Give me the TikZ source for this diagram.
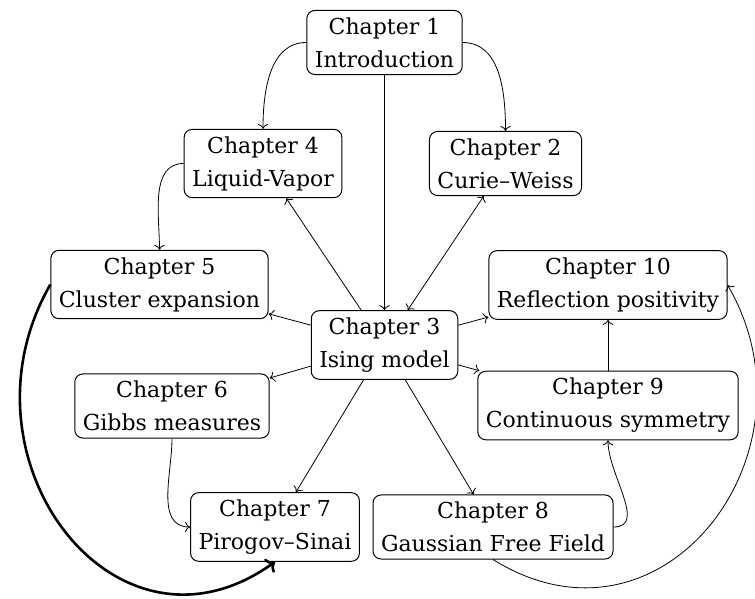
\documentclass[tikz,border=0pt]{standalone}
\usepackage{fontspec}
\setmainfont{DejaVu Serif}
\usetikzlibrary{arrows.meta}
\begin{document}
\begin{tikzpicture}[x=1pt,y=-1pt,
  box/.style={draw, rounded corners=8pt, align=center, inner xsep=8pt, inner ysep=7pt,
    font=\fontsize{22}{33}\selectfont, line width=1pt},
  conn/.style={-{To[scale=1.5]}, line width=0.8pt},
  both/.style={{To[scale=1.5]}-{To[scale=1.5]}, line width=0.8pt},
  boldconn/.style={-{To[scale=1.1]}, line width=2.6pt}]
\useasboundingbox (0,0) rectangle (755,599);
\node[box] (ch1) at (384.5,42.5) {Chapter 1\\Introduction};
\node[box] (ch4) at (263,163.5) {Chapter 4\\Liquid-Vapor};
\node[box] (ch2) at (505.5,163.5) {Chapter 2\\Curie–Weiss};
\node[box] (ch5) at (159.5,284.5) {Chapter 5\\Cluster expansion};
\node[box] (ch3) at (384.5,345) {Chapter 3\\Ising model};
\node[box] (ch10) at (608,285) {Chapter 10\\Reflection positivity};
\node[box] (ch6) at (172,406) {Chapter 6\\Gibbs measures};
\node[box] (ch9) at (608,405.5) {Chapter 9\\Continuous symmetry};
\node[box] (ch7) at (275,527) {Chapter 7\\Pirogov–Sinai};
\node[box] (ch8) at (493,527) {Chapter 8\\Gaussian Free Field};

\draw[conn] (ch1.west) .. controls +(-37,0) and +(0,-37) .. (ch4.north);
\draw[conn] (ch1.east) .. controls +(38,0) and +(0,-38) .. (ch2.north);
\draw[conn] (ch1) -- (ch3);
\draw[conn] (ch4.west) .. controls +(-34,0) and +(0,-34) .. (ch5.north);
\draw[conn] (ch3) -- (ch4);
\draw[both] (ch3) -- (ch2);
\draw[conn] (ch3) -- (ch5);
\draw[conn] (ch3) -- (ch6);
\draw[conn] (ch3) -- (ch7);
\draw[conn] (ch3) -- (ch8);
\draw[conn] (ch3) -- (ch9);
\draw[conn] (ch3) -- (ch10);
\draw[conn] (ch9) -- (ch10);
\draw[conn] (ch6.south) .. controls +(0,35) and +(-35,0) .. (ch7.west);
\draw[conn] (ch8.east) .. controls +(34,0) and +(0,34) .. (ch9.south);
\draw[conn] (ch8.south) .. controls +(170,106) and +(97,167) .. (ch10.east);
\draw[boldconn] (ch5.west) .. controls +(-100,173.5) and +(-160,115) .. (ch7.south);
\end{tikzpicture}
\end{document}
